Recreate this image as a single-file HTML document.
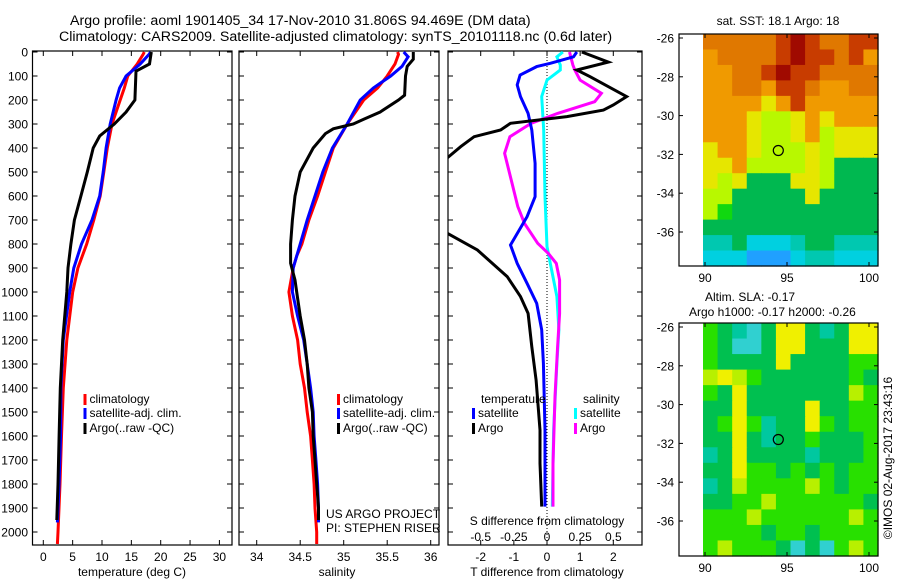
<!DOCTYPE html>
<html><head><meta charset="utf-8"><style>
body{margin:0;background:#fff}
svg{display:block;font-family:"Liberation Sans",sans-serif}
text{fill:#000}
</style></head><body>
<svg id="c" width="900" height="580" viewBox="0 0 900 580">
<defs>
<clipPath id="cp1"><rect x="32.5" y="51" width="199.5" height="494"/></clipPath>
<clipPath id="cp2"><rect x="239" y="51" width="200" height="494"/></clipPath>
<clipPath id="cp3"><rect x="448" y="51" width="194" height="494"/></clipPath>
</defs>
<text x="70" y="25" font-size="14.2">Argo profile: aoml 1901405_34 17-Nov-2010 31.806S 94.469E (DM data)</text>
<text x="59" y="41" font-size="14.2">Climatology: CARS2009. Satellite-adjusted climatology: synTS_20101118.nc (0.6d later)</text>
<g id="g"></g>
</svg>
<script>
// ---- temperature panel data ----
const tRedDepth=[0,10,50,100,150,200,300,400,500,600,700,800,900,1000,1200,1400,1600,1800,2000,2050];
const tRed=[17.2,17.0,16.0,14.4,13.8,13.1,11.7,10.9,10.3,9.7,8.6,7.4,5.9,5.0,4.0,3.4,3.1,2.85,2.5,2.4];
const tBlueDepth=[0,10,50,100,150,200,300,400,500,600,700,800,900,1000,1200,1400,1600,1800,1960];
const tBlue=[18.3,18.0,16.5,14.1,13.0,12.4,11.4,10.7,10.2,9.6,8.3,6.5,5.2,4.5,3.4,3.0,2.95,2.7,2.4];
const tBlackDepth=[0,50,80,200,250,300,350,400,500,600,700,800,900,1000,1200,1400,1600,1800,1950];
const tBlack=[18.4,18.1,15.8,15.6,14.1,12.1,9.6,8.5,7.5,6.4,5.3,4.7,4.2,4.0,3.3,2.9,2.7,2.5,2.3];
const tTicks=[0,5,10,15,20,25,30];
// ---- salinity panel data ----
const sRedDepth=[0,10,50,100,150,200,300,400,500,600,700,800,850,900,1000,1100,1200,1300,1400,1500,1600,1700,1800,1900,2000,2050];
const sRed=[35.62,35.63,35.59,35.50,35.39,35.23,35.04,34.88,34.79,34.70,34.60,34.52,34.46,34.42,34.37,34.41,34.47,34.50,34.55,34.58,34.62,34.64,34.66,34.67,34.69,34.69];
const sBlueDepth=[0,20,60,100,150,200,300,400,500,600,700,800,900,1000,1100,1200,1300,1400,1500,1600,1700,1800,1900,1960];
const sBlue=[35.69,35.74,35.67,35.54,35.34,35.19,35.04,34.87,34.76,34.67,34.58,34.50,34.42,34.41,34.47,34.54,34.58,34.62,34.65,34.66,34.68,34.70,34.71,34.71];
const sBlackDepth=[0,30,60,100,180,200,250,280,300,320,340,400,500,600,700,800,880,950,1000,1100,1200,1300,1400,1500,1600,1700,1800,1900,1950];
const sBlack=[35.80,35.80,35.73,35.71,35.70,35.63,35.42,35.23,35.11,34.88,34.79,34.65,34.50,34.44,34.41,34.39,34.39,34.44,34.46,34.50,34.55,34.58,34.60,34.64,34.65,34.67,34.69,34.71,34.71];
const sTicks=[34,34.5,35,35.5,36];
const sTickLabels=["34","34.5","35","35.5","36"];
// ---- difference panel data ----
const dTArgoDepth=[0,42,75,103,186,221,242,269,297,325,353,394,440,500,600,700,756,825,936,1019,1089,1228,1367,1575,1714,1894];
const dTArgo=[1.05,1.85,0.9,1.3,2.4,2.0,1.7,0.6,-1.1,-1.4,-2.2,-2.6,-3.0,-3.4,-3.6,-3.3,-3.0,-2.1,-1.2,-0.8,-0.57,-0.46,-0.33,-0.21,-0.21,-0.16];
const dTSatDepth=[0,20,47,61,96,137,186,256,325,464,603,686,804,881,964,1047,1158,1297,1575,1894];
const dTSat=[0.9,0.8,0.1,-0.31,-0.81,-0.9,-0.8,-0.57,-0.46,-0.36,-0.36,-0.6,-1.1,-0.9,-0.6,-0.31,-0.16,-0.11,-0.06,-0.06];
const dSSatDepth=[0,20,54,75,117,186,325,603,811,881,1019,1158,1297,1575,1894];
const dSSat=[0.12,0.075,0.1,0.1,0,-0.04,-0.025,-0.015,0,0.025,0.075,0.09,0.075,0.05,0.04];
const dSArgoDepth=[0,54,75,117,172,207,256,297,353,422,533,644,714,797,839,881,950,1089,1228,1436,1714,1894];
const dSArgo=[0.17,0.195,0.21,0.25,0.41,0.36,0.08,-0.12,-0.28,-0.32,-0.27,-0.22,-0.17,-0.07,0.01,0.07,0.095,0.095,0.08,0.06,0.045,0.045];
const dTTicks=[-2,-1,0,1,2];
const dSTicks=[-0.5,-0.25,0,0.25,0.5];
const dSTickLabels=["-0.5","-0.25","0","0.25","0.5"];
const depthTicks=[0,100,200,300,400,500,600,700,800,900,1000,1100,1200,1300,1400,1500,1600,1700,1800,1900,2000];
// ---- maps ----
const sstRows=["ooooorRroorr","OoooorRrrorO","OOoorRrroooo","OOooOrroOOoo","OOOOyOrOOOOO","OOOyYYyOyOOO","OOOyYYyOYyyy","yOOyYYYyYyyy","yyOYYYYyYGGG","yYyGGGyyYGGG","YYGGGGGyGGGG","YgGGGGGGGGGG","GGGGGGGGGGGG","ttGccctGGttt","cccbbbcttccc"];
const slaRows=["gGtcGyyGtGyy","gGccGyyGGGyy","gGGGGyGGGGgg","YyYgGGGGGGgG","gGyGGGGGGGYg","GGyGGGGyGGgg","GgygtGGygGgg","GGyGtGGgGGGg","tGyGGGGtGGGg","GGyggGgGgGgg","tGYggggYgGgg","GGggYggggggG","gggYggggggYg","ggggGggGgggg","gYgggGcGcgYg"];
const sstColors={R:"#a00a00",r:"#c83c00",o:"#e07800",O:"#f09a00",y:"#e6e600",Y:"#b8f800",g:"#10d810",G:"#00b850",t:"#00c8b0",c:"#00d0e0",b:"#20a0ff"};
const slaColors={g:"#28e000",G:"#00c050",Y:"#b8f000",y:"#f0f000",t:"#00c8a0",c:"#30d0d0"};
const mapLatTicks=[-26,-28,-30,-32,-34,-36];
const mapLonTicks=[90,95,100];
const argoLon=94.47, argoLat=-31.8;

const NS="http://www.w3.org/2000/svg";
const G=document.getElementById('g');
function mk(tag,attrs,parent){const e=document.createElementNS(NS,tag);for(const k in attrs)e.setAttribute(k,attrs[k]);(parent||G).appendChild(e);return e;}
function txt(x,y,s,size,anchor,parent){const e=mk('text',{x:x,y:y,'font-size':size||12,'text-anchor':anchor||'start'},parent);e.textContent=s;return e;}
const Y0=52,YS=0.24;
function yD(d){return Y0+d*YS;}
const xT=v=>43.3+v*5.87;
const xS=v=>256.7+(v-34)*87;
const xDT=v=>547+v*33.15;
const xDS=v=>547+v*4*33.15;

function line(depths,vals,xf,color,clip,name){
  const p=vals.map((v,i)=>xf(v).toFixed(1)+','+yD(depths[i]).toFixed(1)).join(' ');
  const e=mk('polyline',{points:p,fill:'none',stroke:color,'stroke-width':3,'stroke-linejoin':'miter','clip-path':'url(#'+clip+')'});
  
  
}
function frame(x0,x1,name){
  const r=mk('rect',{x:x0,y:51,width:x1-x0,height:494,fill:'none',stroke:'#000','stroke-width':1.2});
  
  
  depthTicks.forEach(d=>{mk('line',{x1:x0,x2:x0+5,y1:yD(d),y2:yD(d),stroke:'#000'});mk('line',{x1:x1,x2:x1-5,y1:yD(d),y2:yD(d),stroke:'#000'});});
}
frame(32.5,232,'temperature-axes');
frame(239,439,'salinity-axes');
frame(448,642,'difference-axes');
depthTicks.forEach(d=>{const e=txt(28,yD(d)+4.5,String(d),12,'end');});
tTicks.forEach(t=>{mk('line',{x1:xT(t),x2:xT(t),y1:545,y2:540,stroke:'#000'});mk('line',{x1:xT(t),x2:xT(t),y1:51,y2:56,stroke:'#000'});
  const e=txt(xT(t),561,String(t),12,'middle');});
sTicks.forEach((t,i)=>{mk('line',{x1:xS(t),x2:xS(t),y1:545,y2:540,stroke:'#000'});mk('line',{x1:xS(t),x2:xS(t),y1:51,y2:56,stroke:'#000'});
  const e=txt(xS(t),561,sTickLabels[i],12,'middle');});
dTTicks.forEach(t=>{mk('line',{x1:xDT(t),x2:xDT(t),y1:545,y2:540,stroke:'#000'});
  const e=txt(xDT(t),561,String(t),12,'middle');});
dSTicks.forEach((t,i)=>{mk('line',{x1:xDS(t),x2:xDS(t),y1:51,y2:56,stroke:'#000'});
  const e=txt(xDS(t),541,dSTickLabels[i],12,'middle');});
mk('line',{x1:xDT(0),x2:xDT(0),y1:51,y2:545,stroke:'#000','stroke-dasharray':'1,2'});
[[132,576,'temperature (deg C)','temperature-axis-title'],[337,576,'salinity','salinity-axis-title'],[547,576,'T difference from climatology','t-diff-axis-title'],[547,525,'S difference from climatology','s-diff-axis-title']].forEach(a=>{const e=txt(a[0],a[1],a[2],12,'middle');});
line(tRedDepth,tRed,xT,'#ff0000','cp1','temp-climatology-line');
line(tBlueDepth,tBlue,xT,'#0000ff','cp1','temp-satellite-line');
line(tBlackDepth,tBlack,xT,'#000000','cp1','temp-argo-line');
line(sRedDepth,sRed,xS,'#ff0000','cp2','sal-climatology-line');
line(sBlueDepth,sBlue,xS,'#0000ff','cp2','sal-satellite-line');
line(sBlackDepth,sBlack,xS,'#000000','cp2','sal-argo-line');
line(dSSatDepth,dSSat,xDS,'#00ffff','cp3','s-diff-satellite-line');
line(dSArgoDepth,dSArgo,xDS,'#ff00ff','cp3','s-diff-argo-line');
line(dTSatDepth,dTSat,xDT,'#0000ff','cp3','t-diff-satellite-line');
line(dTArgoDepth,dTArgo,xDT,'#000000','cp3','t-diff-argo-line');
function leg(x,y,color,label,name){mk('rect',{x:x,y:y-9,width:3,height:11,fill:color});const e=txt(x+6,y,label,12);}
leg(83.5,403,'#ff0000','climatology','legend-climatology');
leg(83.5,417,'#0000ff','satellite-adj. clim.','legend-satellite-adj');
leg(83.5,432,'#000000','Argo(..raw -QC)','legend-argo');
leg(337,403,'#ff0000','climatology','legend2-climatology');
leg(337,417,'#0000ff','satellite-adj. clim.','legend2-satellite-adj');
leg(337,432,'#000000','Argo(..raw -QC)','legend2-argo');
{const e=txt(481,403,'temperature',12);}
{const e=txt(583,403,'salinity',12);}
leg(472,417,'#0000ff','satellite','legend-t-satellite');
leg(472,432,'#000000','Argo','legend-t-argo');
leg(574,417,'#00ffff','satellite','legend-s-satellite');
leg(574,432,'#ff00ff','Argo','legend-s-argo');
{const e=txt(326,518,'US ARGO PROJECT',12);}
{const e=txt(326,532,'PI: STEPHEN RISER',12);}
function map(top,bottom,rows,colors,name){
  const L=679,R=878,cx0=703;
  const lonX=l=>705+(l-90)*16.4;
  const latY=l=>top+4+(-26-l)*19.4;
  const nR=rows.length,nC=rows[0].length;
  const cw=(R-cx0)/nC,ch=(bottom-top)/nR;
  rows.forEach((row,ri)=>{for(let ci=0;ci<nC;ci++){mk('rect',{x:(cx0+ci*cw).toFixed(2),y:(top+ri*ch).toFixed(2),width:(cw+0.6).toFixed(2),height:(ch+0.6).toFixed(2),fill:colors[row[ci]]});}});
  const f=mk('rect',{x:L,y:top,width:R-L,height:bottom-top,fill:'none',stroke:'#000','stroke-width':1.2});
  
  
  mapLatTicks.forEach(l=>{mk('line',{x1:L,x2:L+4,y1:latY(l),y2:latY(l),stroke:'#000'});mk('line',{x1:R,x2:R-4,y1:latY(l),y2:latY(l),stroke:'#000'});
    const e=txt(674,latY(l)+4.5,String(l),12,'end');});
  mapLonTicks.forEach(l=>{mk('line',{x1:lonX(l),x2:lonX(l),y1:bottom,y2:bottom-4,stroke:'#000'});mk('line',{x1:lonX(l),x2:lonX(l),y1:top,y2:top+4,stroke:'#000'});
    const e=txt(lonX(l),bottom+16,String(l),12,'middle');});
  const c=mk('circle',{cx:lonX(argoLon),cy:latY(argoLat),r:5,fill:'none',stroke:'#000','stroke-width':1.2});
  
  
}
map(34,266,sstRows,sstColors,'sst-map');
map(323,556,slaRows,slaColors,'sla-map');
{const e=txt(778,25,'sat. SST: 18.1 Argo: 18',12,'middle');}
{const e=txt(705,301,'Altim. SLA: -0.17',12);}
{const e=txt(689,316,'Argo h1000: -0.17 h2000: -0.26',12);}
{const e=txt(0,0,'©IMOS 02-Aug-2017 23:43:16',12,'middle');e.setAttribute('transform','translate(892,458) rotate(-90)');}
</script>
</body></html>
